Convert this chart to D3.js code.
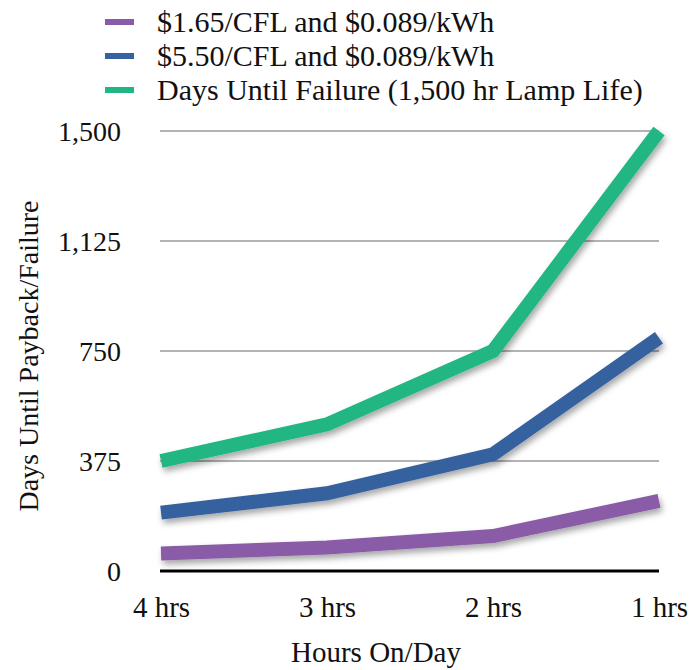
<!DOCTYPE html>
<html><head><meta charset="utf-8">
<script src="https://cdn.jsdelivr.net/npm/d3@7"></script>
<style>body{margin:0;background:#fff}svg{display:block}text{font-family:"Liberation Serif","Times New Roman",serif;fill:#111}</style>
</head><body><svg id="c" width="689" height="670"></svg>
<script>
const categories = ["4 hrs","3 hrs","2 hrs","1 hrs"];
const seriesNames = ["$1.65/CFL and $0.089/kWh","$5.50/CFL and $0.089/kWh","Days Until Failure (1,500 hr Lamp Life)"];
const cheapCfl = [60, 80, 119, 239];
const expensiveCfl = [199, 265, 398, 795];
const daysUntilFailure = [375, 500, 750, 1500];
const yTicks = [0, 375, 750, 1125, 1500];
const colors = ["#8a5ca8","#36629f","#21b683"];

const svg = d3.select("#c");
const defs = svg.append("defs");
const f = defs.append("filter").attr("id","sh").attr("x","-10%").attr("y","-10%").attr("width","130%").attr("height","140%");
f.append("feDropShadow").attr("dx",2).attr("dy",4).attr("stdDeviation",3).attr("flood-color","#000").attr("flood-opacity",0.35);

const x = d3.scalePoint().domain(categories).range([161, 659]);
const y = d3.scaleLinear().domain([0,1500]).range([571,131]);

// gridlines
svg.append("g").selectAll("line").data(yTicks.filter(d=>d>0)).join("line")
  .attr("x1",160).attr("x2",659).attr("y1",d=>y(d)).attr("y2",d=>y(d))
  .attr("stroke","#b3b3b3").attr("stroke-width",2);
svg.append("line").attr("x1",160).attr("x2",659).attr("y1",y(0)).attr("y2",y(0)).attr("stroke","#000").attr("stroke-width",3);

// y axis labels
const yAxis = d3.axisLeft(y).tickValues(yTicks).tickSize(0).tickPadding(0).tickFormat(d3.format(","));
const ya = svg.append("g").attr("transform","translate(121,0)").call(yAxis);
ya.select(".domain").remove();
ya.selectAll("text").attr("font-size",28).attr("font-family","Liberation Serif").attr("fill","#111").attr("dy","0.35em");

// x axis labels
const xAxis = d3.axisBottom(x).tickSize(0).tickPadding(0);
const xa = svg.append("g").attr("transform","translate(0,595)").call(xAxis);
xa.select(".domain").remove();
xa.selectAll("text").attr("font-size",29).attr("font-family","Liberation Serif").attr("fill","#111").attr("dy","0.75em");

// axis titles
svg.append("text").attr("x",376).attr("y",662).attr("text-anchor","middle").attr("font-size",29).text("Hours On/Day");
svg.append("text").attr("transform","translate(38,356) rotate(-90)").attr("text-anchor","middle").attr("font-size",28).text("Days Until Payback/Failure");

// lines
const data = [cheapCfl, expensiveCfl, daysUntilFailure];
const line = d3.line().x((d,i)=>x(categories[i])).y(d=>y(d));
svg.append("g").attr("filter","url(#sh)").selectAll("path").data(data).join("path")
  .attr("d",line).attr("fill","none").attr("stroke",(d,i)=>colors[i]).attr("stroke-width",14)
  .attr("stroke-linejoin","miter").attr("stroke-linecap","butt");

// legend
const lg = svg.append("g").selectAll("g").data(seriesNames).join("g")
  .attr("transform",(d,i)=>`translate(0,${22+i*34})`);
lg.append("line").attr("x1",105).attr("x2",134).attr("y1",0).attr("y2",0).attr("stroke",(d,i)=>colors[i]).attr("stroke-width",6);
lg.append("text").attr("x",157).attr("y",0).attr("dy","0.33em").attr("font-size",30).text(d=>d);
</script></body></html>
